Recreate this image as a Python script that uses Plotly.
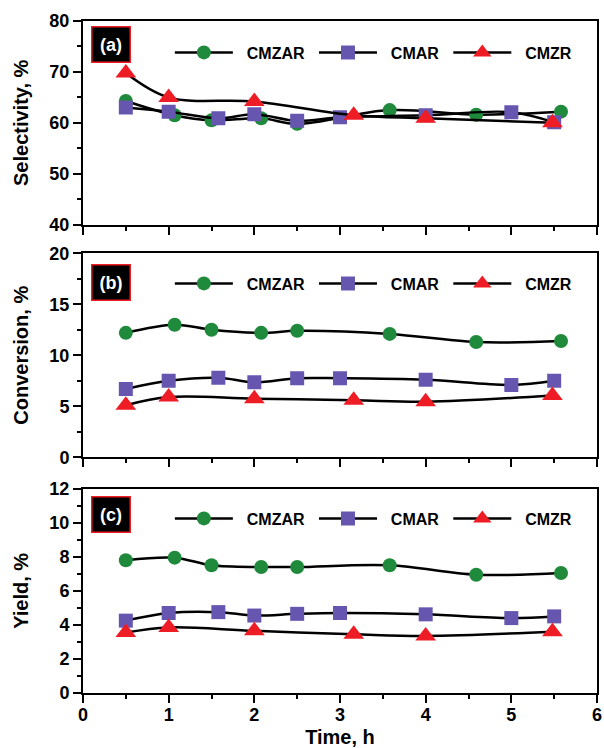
import plotly.graph_objects as go

# ---------------- data ----------------
t_cmzar = [0.5, 1.07, 1.5, 2.08, 2.5, 3.58, 4.59, 5.58]
t_cmar = [0.5, 1.0, 1.58, 2.0, 2.5, 3.0, 4.0, 5.0, 5.5]
t_cmzr = [0.5, 1.0, 2.0, 3.16, 4.0, 5.48]

sel_cmzar = [64.3, 61.5, 60.5, 60.9, 59.8, 62.5, 61.6, 62.2]
sel_cmar = [63.0, 62.2, 60.9, 61.7, 60.4, 61.1, 61.5, 62.1, 60.1]
sel_cmzr = [69.8, 65.0, 64.2, 61.5, 60.9, 60.0]

conv_cmzar = [12.2, 13.0, 12.5, 12.2, 12.4, 12.1, 11.3, 11.4]
conv_cmar = [6.7, 7.5, 7.8, 7.35, 7.75, 7.75, 7.6, 7.1, 7.5]
conv_cmzr = [5.1, 5.9, 5.75, 5.6, 5.45, 6.05]

yld_cmzar = [7.8, 7.95, 7.5, 7.4, 7.4, 7.5, 6.95, 7.05]
yld_cmar = [4.25, 4.7, 4.75, 4.55, 4.65, 4.7, 4.62, 4.4, 4.5]
yld_cmzr = [3.55, 3.85, 3.65, 3.45, 3.35, 3.6]

series_names = ["CMZAR", "CMAR", "CMZR"]
panel_labels = ["(a)", "(b)", "(c)"]
y_titles = ["Selectivity, %", "Conversion, %", "Yield, %"]
y_ranges = [[40, 80], [0, 20], [0, 12]]
y_dticks = [10, 5, 2]
x_title = "Time, h"

# ---------------- style ----------------
FONT = "Arial, Liberation Sans, sans-serif"
colors = ["#1f8a3b", "#6656b0", "#ee1c25"]
symbols = ["circle", "square", "triangle-up"]
sizes = [14, 14, 18]
NB = "\u00a0"

W, H = 604, 748
ml, mr, mt, mb = 83, 7, 21, 55
ph = H - mt - mb
def pf(py):
    return (H - mb - py) / ph

domains = [[pf(224.7), 1.0], [pf(457.3), pf(253.3)], [0.0, pf(488.7)]]
legend_y = [pf(52.5), pf(283.5), pf(518.5)]
label_y = [0.886, 0.859, 0.876]

panels = [
    (t_cmzar, sel_cmzar, t_cmar, sel_cmar, t_cmzr, sel_cmzr),
    (t_cmzar, conv_cmzar, t_cmar, conv_cmar, t_cmzr, conv_cmzr),
    (t_cmzar, yld_cmzar, t_cmar, yld_cmar, t_cmzr, yld_cmzr),
]

fig = go.Figure()
layout = {}
annotations = []
for p, data in enumerate(panels):
    ax = "" if p == 0 else str(p + 1)
    leg = "legend" if p == 0 else f"legend{p+1}"
    for s in range(3):
        fig.add_trace(go.Scatter(
            x=data[2 * s], y=data[2 * s + 1],
            name=NB + NB + series_names[s] + NB,
            mode="lines+markers",
            line=dict(color="black", width=2.5, shape="spline", smoothing=1.0),
            marker=dict(color=colors[s], symbol=symbols[s], size=sizes[s],
                        line=dict(width=0)),
            xaxis="x" + ax, yaxis="y" + ax, legend=leg,
        ))
    last = (p == 2)
    layout["xaxis" + ax] = dict(
        domain=[0, 1], anchor="y" + ax, range=[0, 6], dtick=1, tick0=0,
        automargin=False,
        showline=True, mirror=True, linecolor="black", linewidth=2,
        ticks="outside", ticklen=8, tickwidth=2, tickcolor="black",
        minor=dict(ticks="outside", ticklen=4, tickwidth=2, dtick=0.5, tickcolor="black"),
        showgrid=False, zeroline=False,
        showticklabels=last, ticklabelstandoff=-4,
        tickfont=dict(family=FONT, size=18, color="black", weight="bold"),
        title=dict(text=x_title if last else "", standoff=8,
                   font=dict(family=FONT, size=20, color="black", weight="bold")),
    )
    if p > 0:
        layout["xaxis" + ax]["matches"] = "x"
    layout["yaxis" + ax] = dict(
        domain=domains[p], anchor="x" + ax, range=y_ranges[p], dtick=y_dticks[p],
        automargin=False,
        showline=True, mirror=True, linecolor="black", linewidth=2,
        ticks="outside", ticklen=8, tickwidth=2, tickcolor="black",
        minor=dict(ticks="outside", ticklen=4, tickwidth=2,
                   dtick=y_dticks[p] / 2, tickcolor="black"),
        showgrid=False, zeroline=False,
        tickfont=dict(family=FONT, size=18, color="black", weight="bold"),
        title=dict(text=y_titles[p], standoff=15,
                   font=dict(family=FONT, size=20, color="black", weight="bold")),
    )
    layout[leg] = dict(
        orientation="h", x=0.169, xanchor="left", y=legend_y[p], yanchor="middle",
        xref="paper", yref="paper", bgcolor="rgba(0,0,0,0)", borderwidth=0,
        itemwidth=58, itemclick=False,
        font=dict(family=FONT, size=16, color="black", weight="bold"),
    )
    annotations.append(dict(
        text=panel_labels[p], xref=f"x{ax} domain", yref=f"y{ax} domain",
        x=0.055, y=label_y[p], xanchor="center", yanchor="middle", showarrow=False,
        bgcolor="black", bordercolor="#ee1c25", borderwidth=1.5, borderpad=1,
        width=35, height=32,
        font=dict(family=FONT, size=18, color="white", weight="bold"),
    ))

fig.update_layout(
    **layout,
    annotations=annotations,
    width=W, height=H,
    margin=dict(l=ml, r=mr, t=mt, b=mb, autoexpand=False),
    paper_bgcolor="white", plot_bgcolor="white",
    showlegend=True,
)

fig.write_html("out.html")
